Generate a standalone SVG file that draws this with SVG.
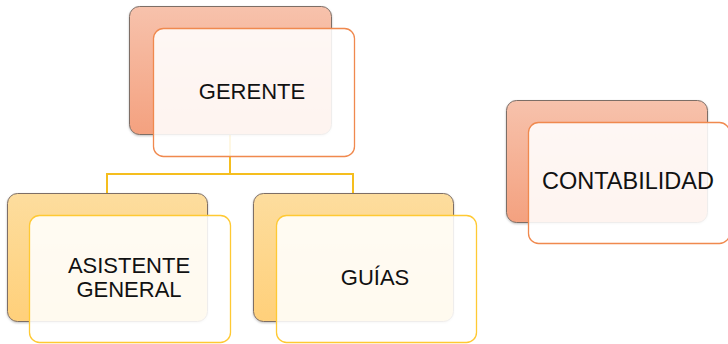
<svg xmlns="http://www.w3.org/2000/svg" width="728" height="344" viewBox="0 0 728 344">
<defs>
<linearGradient id="gO" x1="0" y1="0" x2="0" y2="1"><stop offset="0" stop-color="#F7C2AC"/><stop offset="1" stop-color="#F4A17F"/></linearGradient>
<linearGradient id="gY" x1="0" y1="0" x2="0" y2="1"><stop offset="0" stop-color="#FDDD9E"/><stop offset="1" stop-color="#FFD07A"/></linearGradient>
<filter id="sh" x="-10%" y="-10%" width="120%" height="120%"><feDropShadow dx="0" dy="1" stdDeviation="1" flood-color="#000" flood-opacity="0.25"/></filter>
</defs>
<style>
.back{stroke:#7d6e66;stroke-width:1;}
.bo{fill:url(#gO);}
.by{fill:url(#gY);}
.front{fill:#ffffff;fill-opacity:0.88;stroke-width:1.3;}
.fo{stroke:#F0894E;}
.fy{stroke:#FFC933;}
.conn{fill:none;stroke:#F5BE1E;stroke-width:2;}
text{font-family:"Liberation Sans",Arial,sans-serif;font-size:22px;fill:#111;text-anchor:middle;}
</style>
<g id="connectors">
<path class="conn" d="M230 135 V174 M107 193 V174 H353 V193"/>
</g>
<g id="gerente">
<rect class="back bo" x="129.5" y="6.5" width="202" height="128" rx="10" filter="url(#sh)"/>
<rect class="front fo" x="153.5" y="28.5" width="201" height="128" rx="10"/>
<text x="252" y="99">GERENTE</text>
</g>
<g id="asistente">
<rect class="back by" x="7.5" y="193.5" width="200" height="128" rx="10" filter="url(#sh)"/>
<rect class="front fy" x="29.5" y="215.5" width="201" height="127" rx="10"/>
<text x="129" y="273">ASISTENTE</text>
<text x="129" y="297">GENERAL</text>
</g>
<g id="guias">
<rect class="back by" x="253.5" y="193.5" width="200" height="128" rx="10" filter="url(#sh)"/>
<rect class="front fy" x="276.5" y="215.5" width="200" height="127" rx="10"/>
<text x="375" y="285">GUÍAS</text>
</g>
<g id="contabilidad">
<rect class="back bo" x="506.5" y="100.5" width="201" height="122" rx="10" filter="url(#sh)"/>
<rect class="front fo" x="528.5" y="122.5" width="201" height="121" rx="10"/>
<text x="628" y="189" style="font-size:23.5px">CONTABILIDAD</text>
</g>
</svg>
